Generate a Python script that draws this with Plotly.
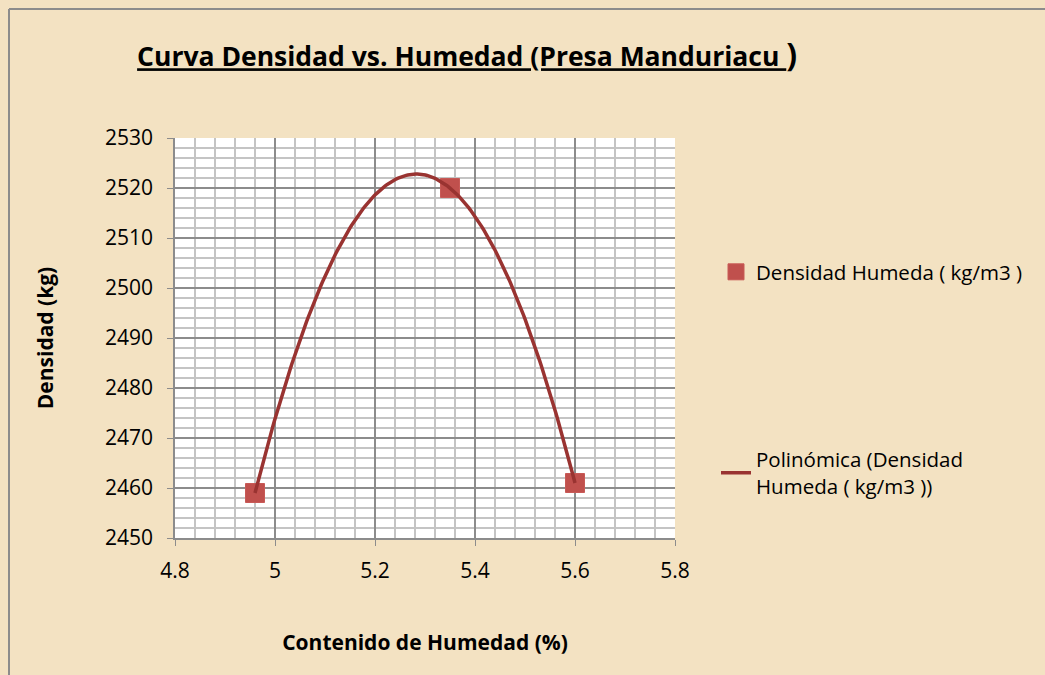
import numpy as np
import plotly.graph_objects as go

humedad = [4.96, 5.35, 5.60]
densidad = [2459, 2520, 2461]
x_ticks = [4.8, 5.0, 5.2, 5.4, 5.6, 5.8]
x_tick_labels = ["4.8", "5", "5.2", "5.4", "5.6", "5.8"]
y_ticks = [2450, 2460, 2470, 2480, 2490, 2500, 2510, 2520, 2530]

coef = np.polyfit(humedad, densidad, 2)
xs = np.linspace(min(humedad), max(humedad), 200)
ys = np.polyval(coef, xs)

FONT = "Open Sans"
L, R, T, B = 175, 370, 138, 137
PW, PH = 1045 - L - R, 675 - T - B


def px(xp):
    return (xp - L) / PW


def py(yp):
    return 1 - (yp - T) / PH


fig = go.Figure()
fig.add_trace(go.Scatter(
    x=humedad, y=densidad, mode="markers", name="Densidad Humeda ( kg/m3 )",
    marker=dict(symbol="square", size=19, color="#C0504D",
                line=dict(color="#C85A57", width=1)),
    legend="legend"))
fig.add_trace(go.Scatter(
    x=xs, y=ys, mode="lines", name="Polinómica (Densidad<br>Humeda ( kg/m3 ))",
    line=dict(color="#993331", width=3.5), legend="legend2"))

fig.update_layout(
    width=1045, height=675,
    paper_bgcolor="#F3E2C2", plot_bgcolor="white",
    margin=dict(l=L, r=R, t=T, b=B),
    font=dict(family=FONT, size=21, color="black"),
    title=dict(text="<b><u>Curva Densidad vs. Humedad (Presa Manduriacu </u><span style='font-size:32px'>)</span></b>",
               x=0.447, xanchor="center", y=1 - 57 / 675, yanchor="middle",
               font=dict(family=FONT, size=26.5, color="black")),
    legend=dict(x=px(716), y=py(272), xanchor="left", yanchor="middle",
                font=dict(family=FONT, size=20.5), bgcolor="rgba(0,0,0,0)"),
    legend2=dict(x=px(716), y=py(473), xanchor="left", yanchor="middle",
                 font=dict(family=FONT, size=20.5), bgcolor="rgba(0,0,0,0)"),
    showlegend=True,
)
fig.update_xaxes(
    range=[4.8, 5.8], tickvals=x_ticks, ticktext=x_tick_labels,
    showgrid=True, gridcolor="#8C8C8C", gridwidth=1.5,
    minor=dict(dtick=0.04, showgrid=True, gridcolor="#C4C4C4", gridwidth=1.5, ticks=""),
    showline=True, linecolor="#8C8C8C", linewidth=1.5,
    ticks="outside", ticklen=6, tickcolor="#8C8C8C", zeroline=False,
    ticklabelstandoff=7,
    title=dict(text="<b>Contenido de Humedad (%)</b>", font=dict(family=FONT, size=21), standoff=52),
)
fig.update_yaxes(
    range=[2450, 2530], tickvals=y_ticks,
    showgrid=True, gridcolor="#8C8C8C", gridwidth=1.5,
    minor=dict(dtick=2, showgrid=True, gridcolor="#C4C4C4", gridwidth=1.5, ticks=""),
    showline=True, linecolor="#8C8C8C", linewidth=1.5,
    ticks="outside", ticklen=6, tickcolor="#8C8C8C", zeroline=False,
    ticklabelstandoff=10,
    title=dict(text="<b>Densidad (kg)</b>", font=dict(family=FONT, size=21), standoff=46),
)
fig.add_shape(type="line", xref="paper", yref="paper", x0=px(9), x1=px(9),
              y0=py(680), y1=py(9), line=dict(color="#8C8C8C", width=2))
fig.add_shape(type="line", xref="paper", yref="paper", x0=px(9), x1=px(1050),
              y0=py(9), y1=py(9), line=dict(color="#8C8C8C", width=2))
fig.write_html("out.html", config={"displayModeBar": False},
               post_script="document.body.style.margin='0';")
